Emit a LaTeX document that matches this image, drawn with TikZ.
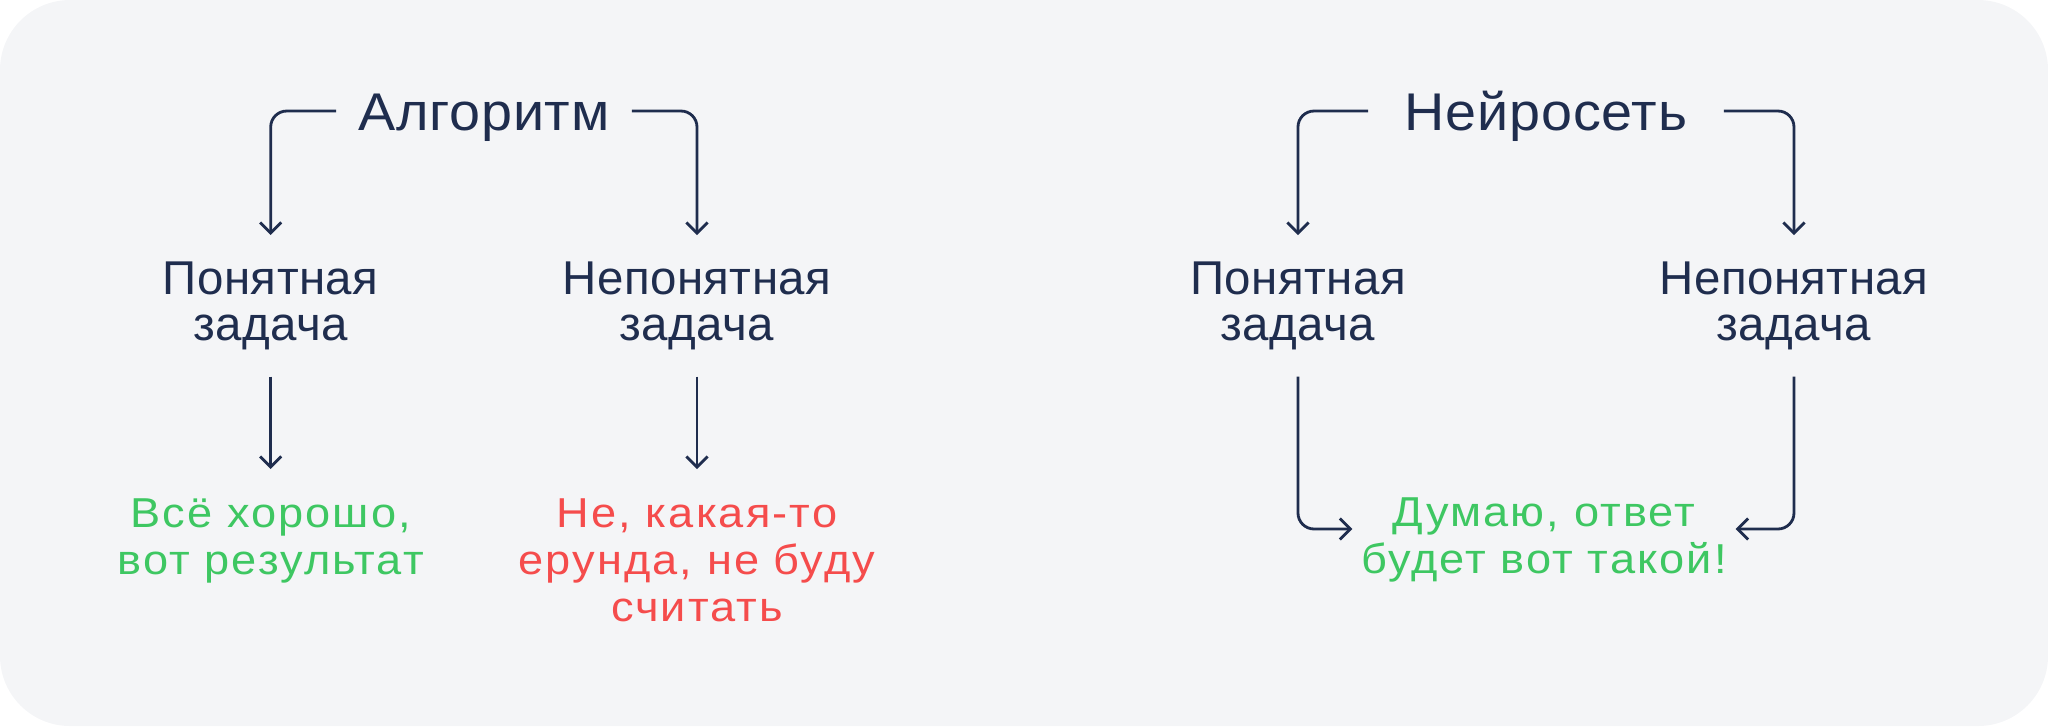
\documentclass[tikz,border=0pt]{standalone}
\usepackage{fontspec}
\setmainfont{Liberation Sans}
\usetikzlibrary{arrows.meta, positioning}
\definecolor{ink_navy}{RGB}{31, 45, 78}
\definecolor{ok_green}{RGB}{62, 199, 98}
\definecolor{bad_red}{RGB}{245, 76, 76}
\definecolor{panel_grey}{RGB}{244, 245, 247}

\begin{document}
\begin{tikzpicture}[
    head/.style={
        anchor=base,
        inner xsep=0.215cm,
        inner ysep=0pt,
        text height=0.38cm,
        text depth=0pt,
        text=ink_navy,
        font=\fontsize{15.1}{18}\selectfont\addfontfeature{FakeStretch=1.05,LetterSpace=1.5}
    },
    task/.style={
        anchor=north,
        align=center,
        inner ysep=0.26cm,
        text=ink_navy,
        font=\fontsize{13.5}{13.1}\selectfont\addfontfeature{LetterSpace=1}
    },
    answer/.style={
        anchor=north,
        align=center,
        inner xsep=0.08cm,
        inner ysep=0.29cm,
        text=#1,
        font=\fontsize{11.9}{13.4}\selectfont\addfontfeature{FakeStretch=1.08,LetterSpace=5}
    },
    arrow/.style={
        -{Straight Barb[length=3pt,width=6pt]},
        line width=0.8pt,
        draw=ink_navy,
        rounded corners=0.16cm
    }
]

% Panel
\fill[panel_grey, rounded corners=0.7cm] (0,0) rectangle (20.48,-7.26);

% Titles
\node[head] (algo) at (4.84,-1.30) {Алгоритм};
\node[head, inner xsep=0.36cm] (neuro) at (15.46,-1.30) {Нейросеть};

% Tasks
\node[task] (easyA) at (2.707,-2.35) {Понятная\\задача};
\node[task] (hardA) at (6.97,-2.35) {Непонятная\\задача};
\node[task] (easyN) at (12.98,-2.35) {Понятная\\задача};
\node[task] (hardN) at (17.94,-2.35) {Непонятная\\задача};

% Answers
\node[answer=ok_green] (fineA) at (2.707,-4.69) {Всё хорошо,\\вот результат};
\node[answer=bad_red] (junkA) at (6.97,-4.69) {Не, какая-то\\ерунда, не буду\\считать};
\node[answer=ok_green] (guessN) at (15.44,-4.68) {Думаю, ответ\\будет вот такой!};

% Connectors
\draw[arrow] (algo.west) -| (easyA.north);
\draw[arrow] (algo.east) -| (hardA.north);
\draw[arrow] (neuro.west) -| (easyN.north);
\draw[arrow] (neuro.east) -| (hardN.north);
\draw[arrow] (easyA.south) -- (fineA.north);
\draw[arrow] (hardA.south) -- (junkA.north);
\draw[arrow] (easyN.south) |- ([yshift=0.11cm]guessN.west);
\draw[arrow] (hardN.south) |- ([yshift=0.11cm]guessN.east);

\end{tikzpicture}
\end{document}
